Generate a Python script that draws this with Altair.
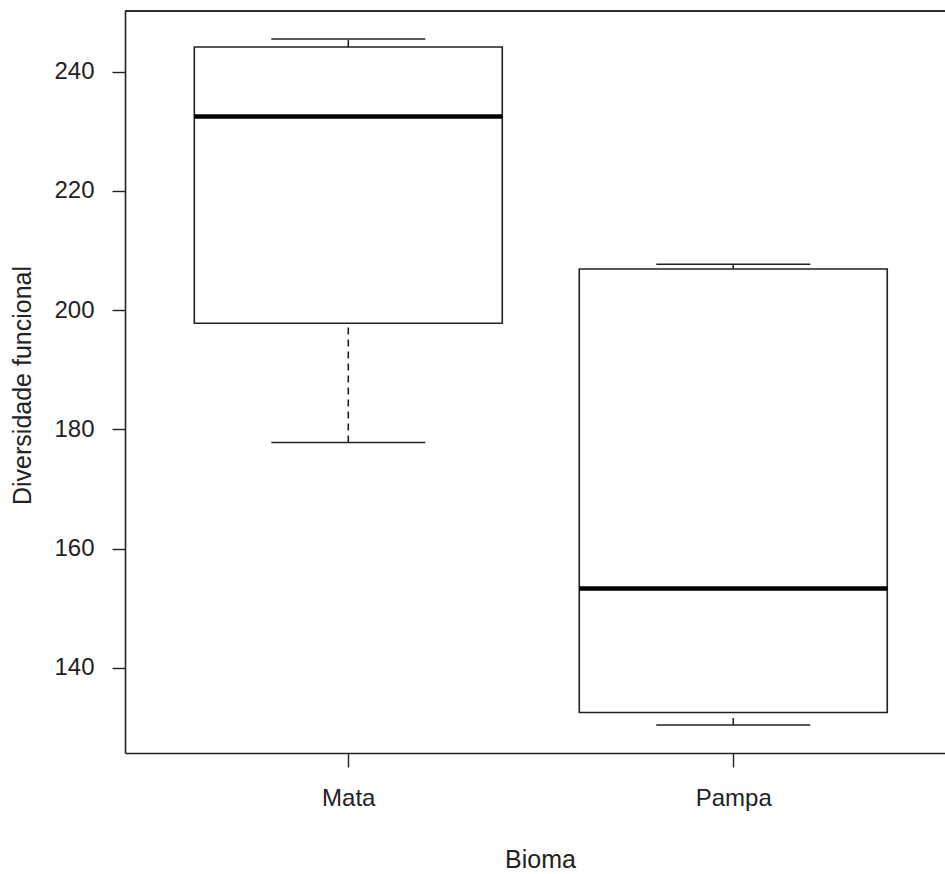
import altair as alt
import pandas as pd

# Five-number summaries of functional diversity per biome
biomes = ["Mata", "Pampa"]
positions = [1, 2]
lower_whisker = [177.8, 130.4]
q1 = [197.8, 132.5]
median = [232.5, 153.3]
q3 = [244.15, 206.9]
upper_whisker = [245.5, 207.7]

df = pd.DataFrame({
    "bioma": biomes,
    "pos": positions,
    "lo": lower_whisker,
    "q1": q1,
    "med": median,
    "q3": q3,
    "hi": upper_whisker,
})

INK = "#222222"
FONT = "Liberation Sans"
PLOT_W, PLOT_H = 820, 742
Y_DOMAIN = [125.7, 250.2]
X_DOMAIN = [0.42, 2.55]

x_scale = alt.Scale(domain=X_DOMAIN, nice=False, zero=False)
y_scale = alt.Scale(domain=Y_DOMAIN, nice=False, zero=False)

x_axis = alt.Axis(
    values=[1, 2],
    labelExpr="datum.value == 1 ? 'Mata' : 'Pampa'",
    title="Bioma",
    grid=False,
    tickSize=14,
    labelPadding=19,
    labelFontSize=24,
    titleFontSize=25,
    titleFontWeight="normal",
    titleX=415,
    titleY=106,
    titleBaseline="middle",
    titleAlign="center",
)
y_axis = alt.Axis(
    values=[140, 160, 180, 200, 220, 240],
    title="Diversidade funcional",
    grid=False,
    tickSize=13,
    labelPadding=18,
    labelFontSize=24,
    titleFontSize=25,
    titleFontWeight="normal",
    titleAngle=-90,
    titleX=-103,
    titleY=374,
    titleAlign="center",
    titleBaseline="middle",
)

base = alt.Chart(df).transform_calculate(
    box_l="datum.pos - 0.4",
    box_r="datum.pos + 0.4",
    cap_l="datum.pos - 0.2",
    cap_r="datum.pos + 0.2",
)

# Boxes (Q1 to Q3)
boxes = base.mark_rect(fill="white", stroke=INK, strokeWidth=1.6).encode(
    x=alt.X("box_l:Q", scale=x_scale, axis=x_axis),
    x2="box_r:Q",
    y=alt.Y("q1:Q", scale=y_scale, axis=y_axis),
    y2="q3:Q",
)

# Medians
medians = base.mark_rule(color="black", strokeWidth=4.5).encode(
    x=alt.X("box_l:Q", scale=x_scale), x2="box_r:Q",
    y=alt.Y("med:Q", scale=y_scale),
)

# Dashed whiskers
whisk_lo = base.mark_rule(color=INK, strokeWidth=1.6, strokeDash=[7, 5]).encode(
    x=alt.X("pos:Q", scale=x_scale), y=alt.Y("lo:Q", scale=y_scale), y2="q1:Q"
)
whisk_hi = base.mark_rule(color=INK, strokeWidth=1.6, strokeDash=[7, 5]).encode(
    x=alt.X("pos:Q", scale=x_scale), y=alt.Y("q3:Q", scale=y_scale), y2="hi:Q"
)

# Whisker caps
caps_lo = base.mark_rule(color=INK, strokeWidth=1.6).encode(
    x=alt.X("cap_l:Q", scale=x_scale), x2="cap_r:Q",
    y=alt.Y("lo:Q", scale=y_scale),
)
caps_hi = base.mark_rule(color=INK, strokeWidth=1.6).encode(
    x=alt.X("cap_l:Q", scale=x_scale), x2="cap_r:Q",
    y=alt.Y("hi:Q", scale=y_scale),
)

# Top edge of the plot frame
frame_top = alt.Chart(df).mark_rule(color=INK, strokeWidth=1.6).encode(
    x=alt.value(0), x2=alt.value(PLOT_W), y=alt.value(0)
)

chart = alt.layer(
    boxes, whisk_lo, whisk_hi, medians, caps_lo, caps_hi, frame_top
).properties(
    width=PLOT_W,
    height=PLOT_H,
    autosize=alt.AutoSizeParams(type="none"),
    padding={"left": 125, "top": 11, "right": 0, "bottom": 121},
    background="white",
).configure_view(
    stroke=None
).configure_axis(
    domainColor=INK,
    domainWidth=1.6,
    tickColor=INK,
    tickWidth=1.4,
    labelColor=INK,
    titleColor=INK,
    labelFont=FONT,
    titleFont=FONT,
)

chart.save("out.html", embed_options={"renderer": "svg", "actions": False})
